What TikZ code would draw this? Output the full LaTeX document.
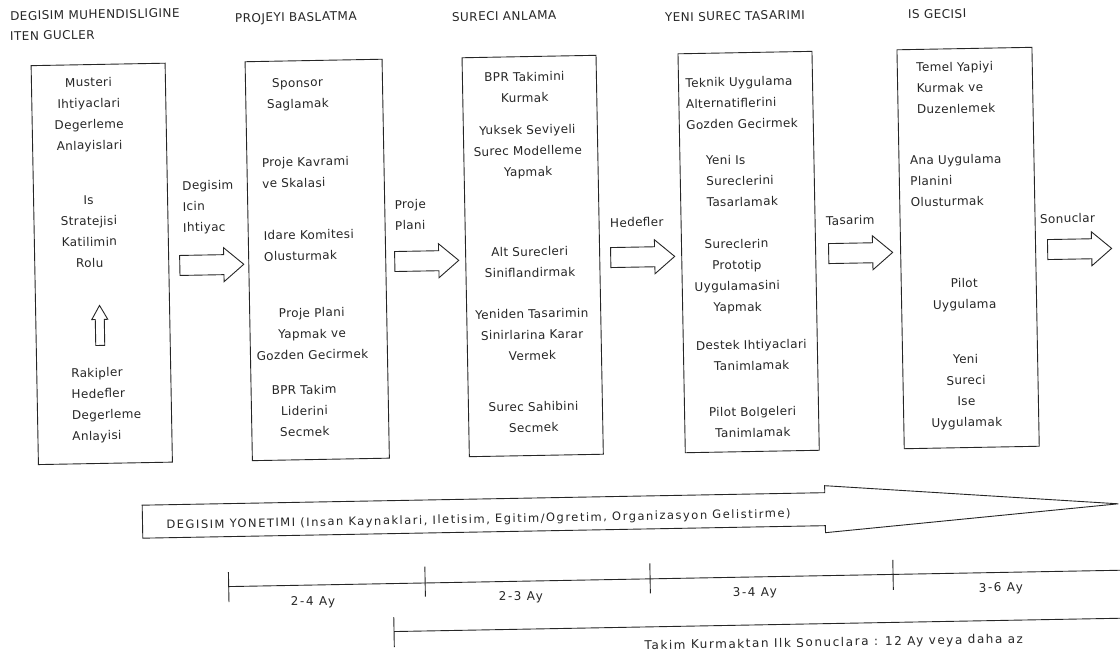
\documentclass[tikz,border=0pt]{standalone}
\usepackage{fontspec}
\setmainfont[LetterSpace=3]{DejaVu Sans}
\newfontfamily\hdrfont[LetterSpace=4]{DejaVu Sans}
\newfontfamily\tlfont[LetterSpace=13]{DejaVu Sans}
\newfontfamily\dyfont[LetterSpace=13]{DejaVu Sans}
\tikzset{
  box/.style={draw=black!85, line width=0.9pt, inner sep=0pt, minimum width=#1, minimum height=399pt},
  txt/.style={inner sep=0pt, outer sep=0pt, text=black!85, font=\fontsize{12}{21}\selectfont, align=center, anchor=north},
  txtl/.style={txt, align=left, anchor=north west},
  hdr/.style={inner sep=0pt, outer sep=0pt, text=black!85, anchor=north west, font=\hdrfont\fontsize{12}{21}\selectfont},
  tl/.style={inner sep=0pt, outer sep=0pt, text=black!85, font=\tlfont\fontsize{12}{14}\selectfont},
  fat/.style={draw=black!85, line width=0.9pt, line join=miter},
  thin/.style={draw=black!85, line width=0.9pt},
  pics/blockarrow/.style={code={\draw[fat] (0,-10) -- (44,-10) -- (44,-17) -- (64,0) -- (44,17) -- (44,10) -- (0,10) -- cycle;}},
  pics/uparrow/.style={code={\draw[fat] (-4.5,40) -- (-4.5,14) -- (-8,14) -- (0,0) -- (8,14) -- (4.5,14) -- (4.5,40) -- cycle;}},
}
\begin{document}
\begin{tikzpicture}[x=1pt,y=-1pt]
\fill[white] (0,0) rectangle (1120,657);
\useasboundingbox (0,0) rectangle (1120,657);
\begin{scope}[rotate around={1.05:(560,328)}, transform shape]
% headers
\node[hdr] (h1) at (16,1.5) {DEGISIM MUHENDISLIGINE};
\node[hdr] (h1b) at (15.5,21.5) {ITEN GUCLER};
\node[hdr] (h2) at (240.7,7.7) {PROJEYI BASLATMA};
\node[hdr] (h3) at (457.7,10.5) {SURECI ANLAMA};
\node[hdr] (h4) at (670.7,14.8) {YENI SUREC TASARIMI};
\node[hdr] (h5) at (913.7,16.5) {IS GECISI};
% boxes
\node[box=134pt] (b1) at (103,255.5) {};
\node[box=137pt] (b2) at (318.5,255.5) {};
\node[box=134pt] (b3) at (534,255.5) {};
\node[box=134pt] (b4) at (750,255.5) {};
\node[box=135pt] (b5) at (969.5,255.5) {};
% box 1
\node[txt] (t1a) at (93,69) {Musteri\\Ihtiyaclari\\Degerleme\\Anlayislari};
\node[txt] (t1b) at (91,187) {Is\\Stratejisi\\Katilimin\\Rolu};
\pic (up) at (100,297) {uparrow};
\node[txtl] (t1c) at (70.5,359.5) {Rakipler\\Hedefler\\Degerleme\\Anlayisi};
% box 2
\node[txt] (t2a) at (302,73.5) {Sponsor\\Saglamak};
\node[txtl] (t2b) at (265,152.5) {Proje Kavrami\\ve Skalasi};
\node[txtl] (t2c) at (265.5,225.5) {Idare Komitesi\\Olusturmak};
\node[txt] (t2d) at (312,303.5) {Proje Plani\\Yapmak ve\\Gozden Gecirmek};
\node[txt] (t2e) at (303,380.5) {BPR Takim\\Liderini\\Secmek};
% box 3
\node[txt] (t3a) at (529,71.5) {BPR Takimini\\Kurmak};
\node[txt] (t3b) at (531,124.5) {Yuksek Seviyeli\\Surec Modelleme\\Yapmak};
\node[txt] (t3c) at (531,246.5) {Alt Surecleri\\Siniflandirmak};
\node[txt] (t3d) at (532,308.5) {Yeniden Tasarimin\\Sinirlarina Karar\\Vermek};
\node[txt] (t3e) at (532,401.5) {Surec Sahibini\\Secmek};
% box 4
\node[txtl] (t4a) at (690,80.5) {Teknik Uygulama\\Alternatiflerini\\Gozden Gecirmek};
\node[txtl] (t4b) at (709,158.5) {Yeni Is\\Sureclerini\\Tasarlamak};
\node[txt] (t4c) at (738,242.5) {Sureclerin\\Prototip\\Uygulamasini\\Yapmak};
\node[txt] (t4d) at (751,343.5) {Destek Ihtiyaclari\\Tanimlamak};
\node[txt] (t4e) at (751,410.5) {Pilot Bolgeleri\\Tanimlamak};
% box 5
\node[txtl] (t5a) at (921,69.3) {Temel Yapiyi\\Kurmak ve\\Duzenlemek};
\node[txtl] (t5b) at (913,162) {Ana Uygulama\\Planini\\Olusturmak};
\node[txt] (t5c) at (965,286) {Pilot\\Uygulama};
\node[txt] (t5d) at (965,362) {Yeni\\Sureci\\Ise\\Uygulamak};
% arrows between boxes
\node[txtl] (l1) at (185,174) {Degisim\\Icin\\Ihtiyac};
\pic (a1) at (181,258.5) {blockarrow};
\node[txtl] (l2) at (397,197) {Proje\\Plani};
\pic (a2) at (396,258.5) {blockarrow};
\node[txtl] (l3) at (612,219) {Hedefler};
\pic (a3) at (612,258.5) {blockarrow};
\node[txtl] (l4) at (828,221) {Tasarim};
\pic (a4) at (830,258.5) {blockarrow};
\node[txtl] (l5) at (1042,223) {Sonuclar};
\pic (a5) at (1049,258.5) {blockarrow};
% change management arrow
\draw[fat] (139,497.5) -- (821.7,497.5) -- (821.7,490.5) -- (1115,514) -- (821.7,537.5) -- (821.7,530.5) -- (139,530.5) -- cycle;
\node[inner sep=0pt, outer sep=0pt, anchor=west, text=black!85, font=\dyfont\fontsize{11.5}{13}\selectfont] (dy) at (163,518.5) {DEGISIM YONETIMI (Insan Kaynaklari, Iletisim, Egitim/Ogretim, Organizasyon Gelistirme)};
% timeline
\coordinate (tl0) at (224,580.5);
\coordinate (tl1) at (1135,580.5);
\draw[thin] (tl0) -- (tl1);
\draw[thin] (224,566) -- (224,596);
\draw[thin] (420.5,564) -- (420.5,594);
\draw[thin] (645.5,565) -- (645.5,595);
\draw[thin] (888.5,566) -- (888.5,596);
\node[tl] (d1) at (308,597.5) {2-4 Ay};
\node[tl] (d2) at (516,596.5) {2-3 Ay};
\node[tl] (d3) at (750,596.5) {3-4 Ay};
\node[tl] (d4) at (996,596.5) {3-6 Ay};
\coordinate (tk0) at (388.5,628.5);
\coordinate (tk1) at (1135,628.5);
\draw[thin] (tk0) -- (tk1);
\draw[thin] (388.5,614) -- (388.5,644);
\node[tl] (tk) at (828,648) {Takim Kurmaktan Ilk Sonuclara : 12 Ay veya daha az};
\end{scope}
\end{tikzpicture}
\end{document}
